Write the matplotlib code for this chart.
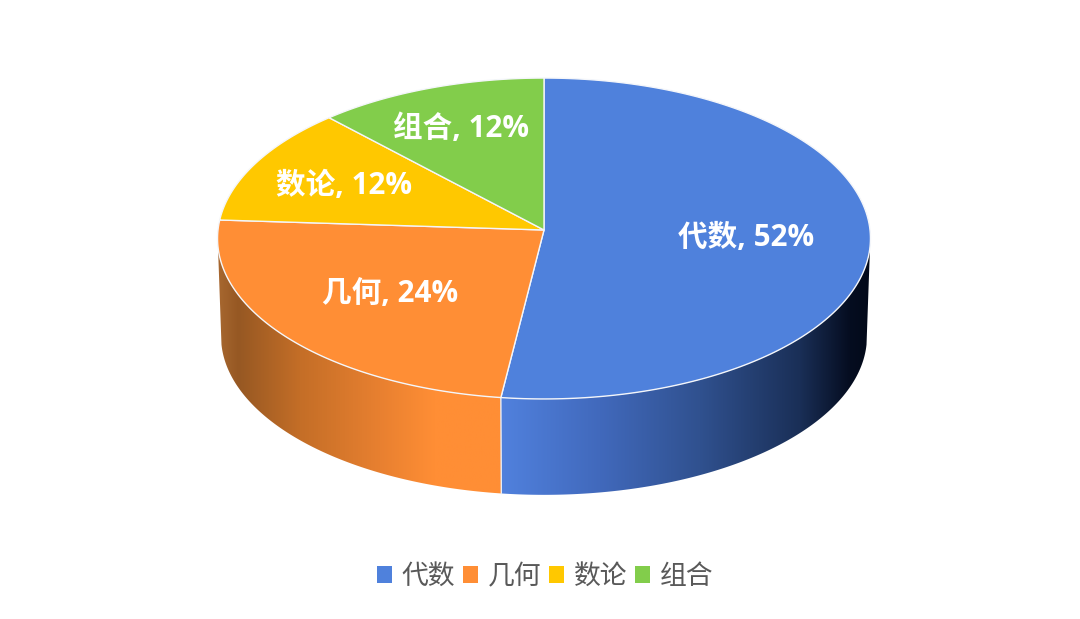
import numpy as np
from matplotlib import pyplot as plt
from matplotlib.colors import LinearSegmentedColormap
from matplotlib.patches import Patch, Polygon

# Chart data
categories = ['代数', '几何', '数论', '组合']
shares = [52, 24, 12, 12]

colors = ['#4F81DC', '#FF8E35', '#FFC800', '#82CD4B']
label_radius = [0.62, 0.60, 0.69, 0.715]

# Pie geometry in pixels, with a slight perspective (far side is smaller)
CX = 544
TOP_APEX = 230
BOTTOM_APEX = 328
PERSP = 0.053
WALL_EDGE = 96


def project(t_deg, r=1.0, apex=TOP_APEX, rx=326, ry=160):
    t = np.radians(t_deg)
    x = r * np.sin(t)
    y = r * np.cos(t)
    w = 1 + PERSP * y
    return CX + rx * x / w, apex - ry * y / w


def arc(t0, t1, **kw):
    ts = np.linspace(t0, t1, 200)
    return np.column_stack(project(ts, **kw))


def wall(ax, t0, t1, stops):
    # Side wall with a horizontal gradient, clipped to the band between the rims
    upper = arc(t0, t1)
    lower = arc(t1, t0, apex=BOTTOM_APEX, rx=322.5, ry=158)
    outline = Polygon(np.vstack([upper, lower]), closed=True, fc='none', ec='none')
    ax.add_patch(outline)
    x0, x1 = stops[0][0], stops[-1][0]
    cmap = LinearSegmentedColormap.from_list(
        'wall', [((x - x0) / (x1 - x0), c) for x, c in stops], N=1024)
    grad = np.linspace(0, 1, 512)[None, :]
    im = ax.imshow(grad, cmap=cmap, extent=[x0, x1, 510, 200], aspect='auto',
                   interpolation='bilinear', zorder=1)
    im.set_clip_path(outline)
    return lower


plt.rcParams['font.family'] = ['Open Sans', 'Noto Sans CJK SC', 'DejaVu Sans']

fig = plt.figure(figsize=(10.8, 6.19), dpi=100)
ax = fig.add_axes([0, 0, 1, 1])
ax.axis('off')

angles = np.concatenate([[0], np.cumsum(shares)]) / sum(shares) * 360

# Front walls: the visible rim runs from right (96 deg) round to left (264 deg)
split = angles[1]
blue_stops = [(495, '#5080DC'), (505, '#5080DC'), (600, '#4169BC'), (700, '#30518F'),
              (800, '#1A2F57'), (850, '#050D20'), (875, '#020818')]
orange_stops = [(215, '#AA6A32'), (238, '#965823'), (300, '#C46E27'), (380, '#E88030'),
                (435, '#FF8E35'), (510, '#FF8E35')]
wall(ax, WALL_EDGE, split, blue_stops)
wall(ax, split, 360 - WALL_EDGE, orange_stops)

x_split, y_split = project(split)
x_low, y_low = project(split, apex=BOTTOM_APEX, rx=322.5, ry=158)
ax.plot([x_split, x_low], [y_split, y_low], color='#E8ECF5', lw=1, zorder=2)

# Top faces
for i, color in enumerate(colors):
    rim = arc(angles[i], angles[i + 1])
    pts = np.vstack([[CX, TOP_APEX], rim])
    ax.add_patch(Polygon(pts, closed=True, fc=color, ec='#F4F6FA', lw=1,
                         joinstyle='round', zorder=3))

# Data labels
for i, name in enumerate(categories):
    mid = (angles[i] + angles[i + 1]) / 2
    x, y = project(mid, r=label_radius[i])
    ax.text(x, y + 2, f'{name}, {shares[i]}%', color='white', fontsize=21.3,
            fontweight='bold', ha='center', va='center', zorder=4)

handles = [Patch(fc=c, ec='none') for c in colors]
ax.legend(handles, categories, ncol=4, loc='center', bbox_to_anchor=(545 / 1080, 1 - 577 / 619),
          frameon=False, fontsize=19.3, labelcolor='#595959', handlelength=0.56,
          handleheight=0.56, handletextpad=0.36, columnspacing=0.3, borderpad=0)

ax.set_xlim(0, 1080)
ax.set_ylim(619, 0)
fig.savefig('out.png', dpi=100, facecolor='white')
